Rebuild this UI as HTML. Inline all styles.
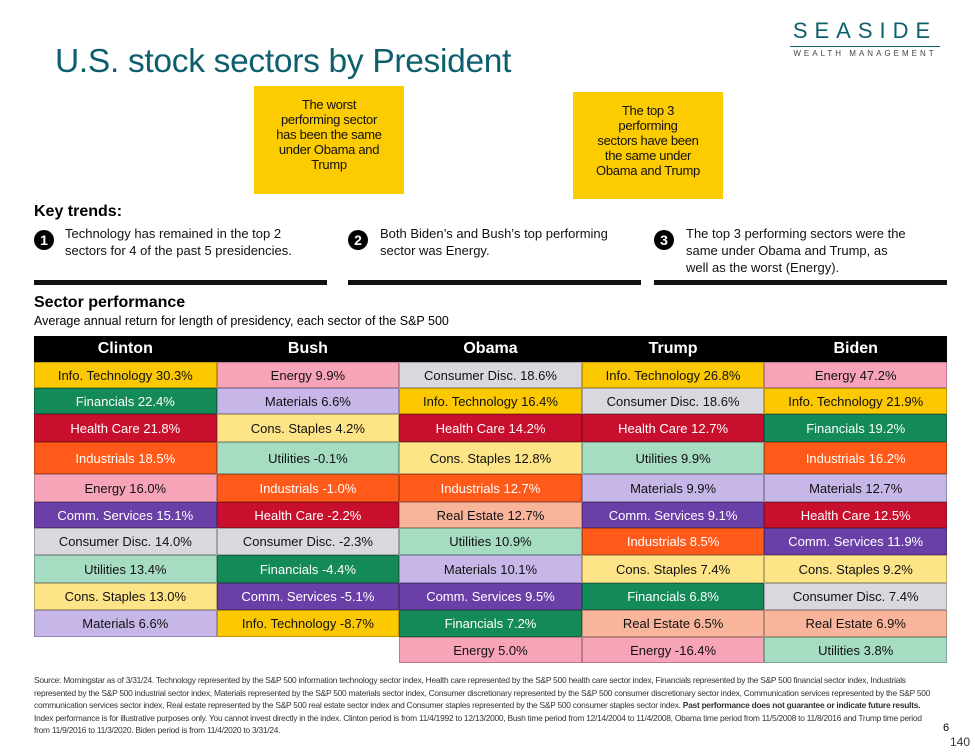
<!DOCTYPE html>
<html><head><meta charset="utf-8"><style>
body{margin:0;width:975px;height:753px;background:#fff;position:relative;overflow:hidden;font-family:"Liberation Sans",sans-serif;}
.abs{position:absolute;}
.note{background:#fdcc00;font-size:13px;text-align:center;line-height:15px;color:#111;box-sizing:border-box;padding-top:11px;letter-spacing:-0.3px;}
.kt{font-size:13px;line-height:17px;color:#111;}
.num{width:20px;height:20px;border-radius:50%;background:#000;color:#fff;font-weight:bold;font-size:14px;text-align:center;line-height:20px;}
.bar{height:5px;background:#111;}
.cell{position:absolute;box-sizing:border-box;border:1px solid rgba(0,0,0,0.25);font-size:13px;display:flex;align-items:center;justify-content:center;}
</style></head><body>
<div class="abs" style="left:55px;top:43px;font-size:33.5px;color:#0d5f6e;letter-spacing:-0.3px;">U.S. stock sectors by President</div>
<div class="abs" style="left:790px;top:18px;text-align:center;color:#0d5f6e;">
<div style="font-size:22px;letter-spacing:7px;">SEASIDE</div>
<div style="border-top:1px solid #0d5f6e;width:150px;margin:2px auto 0;font-size:8px;letter-spacing:3px;color:#444;padding-top:2px;">WEALTH MANAGEMENT</div></div>
<div class="abs note" style="left:254px;top:86px;width:150px;height:108px;">The worst<br>performing sector<br>has been the same<br>under Obama and<br>Trump</div>
<div class="abs note" style="left:573px;top:92px;width:150px;height:107px;">The top 3<br>performing<br>sectors have been<br>the same under<br>Obama and Trump</div>
<div class="abs" style="left:34px;top:203px;font-size:16px;font-weight:bold;">Key trends:</div>
<div class="abs num" style="left:34px;top:230px;">1</div>
<div class="abs kt" style="left:65px;top:225px;">Technology has remained in the top 2<br>sectors for 4 of the past 5 presidencies.</div>
<div class="abs num" style="left:348px;top:230px;">2</div>
<div class="abs kt" style="left:380px;top:225px;">Both Biden’s and Bush’s top performing<br>sector was Energy.</div>
<div class="abs num" style="left:654px;top:230px;">3</div>
<div class="abs kt" style="left:686px;top:225px;">The top 3 performing sectors were the<br>same under Obama and Trump, as<br>well as the worst (Energy).</div>
<div class="abs bar" style="left:34px;top:280px;width:293px;"></div>
<div class="abs bar" style="left:348px;top:280px;width:293px;"></div>
<div class="abs bar" style="left:654px;top:280px;width:293px;"></div>
<div class="abs" style="left:34px;top:294px;font-size:16px;font-weight:bold;">Sector performance</div>
<div class="abs" style="left:34px;top:314px;font-size:12.5px;">Average annual return for length of presidency, each sector of the S&amp;P 500</div>
<div id="tbl"></div>
<div class="abs" style="left:34px;top:674px;width:900px;font-size:8.4px;line-height:12.5px;color:#333;letter-spacing:-0.25px;">Source: Morningstar as of 3/31/24. Technology represented by the S&amp;P 500 information technology sector index, Health care represented by the S&amp;P 500 health care sector index, Financials represented by the S&amp;P 500 financial sector index, Industrials represented by the S&amp;P 500 industrial sector index, Materials represented by the S&amp;P 500 materials sector index, Consumer discretionary represented by the S&amp;P 500 consumer discretionary sector index, Communication services represented by the S&amp;P 500 communication services sector index, Real estate represented by the S&amp;P 500 real estate sector index and Consumer staples represented by the S&amp;P 500 consumer staples sector index. <b>Past performance does not guarantee or indicate future results.</b> Index performance is for illustrative purposes only. You cannot invest directly in the index. Clinton period is from 11/4/1992 to 12/13/2000, Bush time period from 12/14/2004 to 11/4/2008, Obama time period from 11/5/2008 to 11/8/2016 and Trump time period from 11/9/2016 to 11/3/2020. Biden period is from 11/4/2020 to 3/31/24.</div>
<div class="abs" style="left:943px;top:722px;font-size:11px;">6</div>
<div class="abs" style="left:950px;top:735px;font-size:12px;color:#333;">140</div>
<script>
const presidents=["Clinton","Bush","Obama","Trump","Biden"];
const clintonSectors=["Info. Technology","Financials","Health Care","Industrials","Energy","Comm. Services","Consumer Disc.","Utilities","Cons. Staples","Materials"];
const clintonValues=[30.3,22.4,21.8,18.5,16.0,15.1,14.0,13.4,13.0,6.6];
const bushSectors=["Energy","Materials","Cons. Staples","Utilities","Industrials","Health Care","Consumer Disc.","Financials","Comm. Services","Info. Technology"];
const bushValues=[9.9,6.6,4.2,-0.1,-1.0,-2.2,-2.3,-4.4,-5.1,-8.7];
const obamaSectors=["Consumer Disc.","Info. Technology","Health Care","Cons. Staples","Industrials","Real Estate","Utilities","Materials","Comm. Services","Financials","Energy"];
const obamaValues=[18.6,16.4,14.2,12.8,12.7,12.7,10.9,10.1,9.5,7.2,5.0];
const trumpSectors=["Info. Technology","Consumer Disc.","Health Care","Utilities","Materials","Comm. Services","Industrials","Cons. Staples","Financials","Real Estate","Energy"];
const trumpValues=[26.8,18.6,12.7,9.9,9.9,9.1,8.5,7.4,6.8,6.5,-16.4];
const bidenSectors=["Energy","Info. Technology","Financials","Industrials","Materials","Health Care","Comm. Services","Cons. Staples","Consumer Disc.","Real Estate","Utilities"];
const bidenValues=[47.2,21.9,19.2,16.2,12.7,12.5,11.9,9.2,7.4,6.9,3.8];
const sectorColors={"Info. Technology":["#fcc800","#111"],"Energy":["#f7a3b8","#111"],"Financials":["#138a58","#fff"],"Health Care":["#c8102e","#fff"],"Industrials":["#ff5a1a","#fff"],"Comm. Services":["#6b3fa8","#fff"],"Consumer Disc.":["#d8d8de","#111"],"Utilities":["#a6dcc2","#111"],"Cons. Staples":["#fde487","#111"],"Materials":["#c7b6e8","#111"],"Real Estate":["#f9b59c","#111"]};
const cols=[[clintonSectors,clintonValues],[bushSectors,bushValues],[obamaSectors,obamaValues],[trumpSectors,trumpValues],[bidenSectors,bidenValues]];
const tx=34,tw=913,cw=tw/5;
const rowEdges=[362,388,414,442,474,502,528,555,583,610,637,663];
const tbl=document.getElementById('tbl');
const hdr=document.createElement('div');


hdr.style.cssText=`position:absolute;left:${tx}px;top:336px;width:${tw}px;height:26px;background:#000;`;
tbl.appendChild(hdr);
presidents.forEach((p,i)=>{
  const h=document.createElement('div');
  
  
  h.textContent=p;
  h.style.cssText=`position:absolute;left:${tx+i*cw}px;top:336px;width:${cw}px;height:26px;line-height:26px;text-align:center;color:#fff;font-weight:bold;font-size:16px;`;
  tbl.appendChild(h);
});
cols.forEach(([names,vals],c)=>{
  names.forEach((n,r)=>{
    const d=document.createElement('div');
    d.className='cell';
    
    
    const col=sectorColors[n];
    d.style.left=(tx+c*cw)+'px';d.style.top=rowEdges[r]+'px';
    d.style.width=cw+'px';d.style.height=(rowEdges[r+1]-rowEdges[r])+'px';
    d.style.background=col[0];d.style.color=col[1];
    d.textContent=n+' '+vals[r].toFixed(1)+'%';
    tbl.appendChild(d);
  });
});
</script>
</body></html>
